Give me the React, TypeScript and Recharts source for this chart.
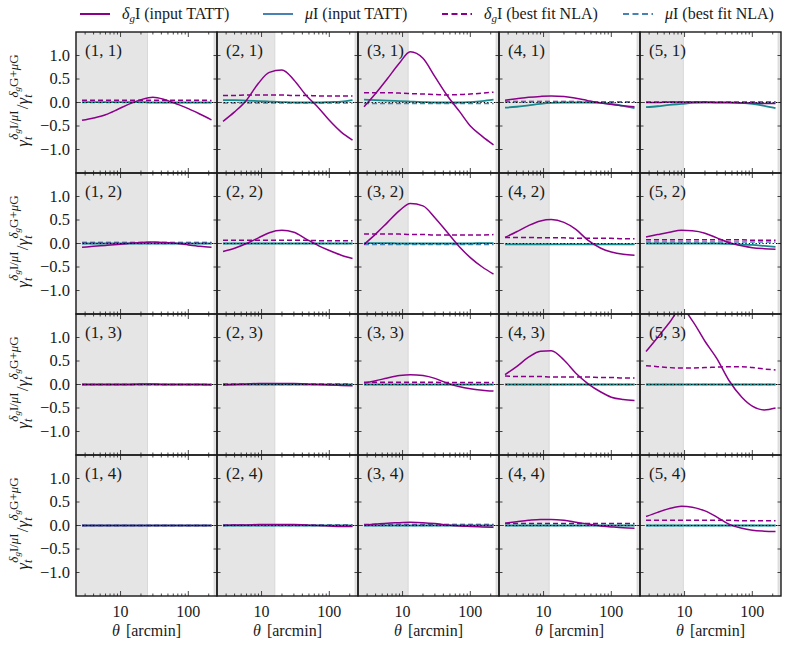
import { useMemo } from "react";
import { LineChart, Line, XAxis, YAxis, ReferenceArea, ReferenceLine } from "recharts";

// theta sample points [arcmin]
const THETA = [2.7, 4, 6, 9, 13, 20, 30, 45, 70, 100, 150, 220];

// scale cuts per lens bin (column), shaded grey
const LOWER_CUTS = [25, 15.7, 12.1, 12.1, 9.6];
const UPPER_CUT = 240;

const X_DOMAIN: [number, number] = [2.2, 265];
const X_MAJOR = [10, 100];
const X_TICKS = [3, 4, 5, 6, 7, 8, 9, 10, 20, 30, 40, 50, 60, 70, 80, 90, 100, 200];
const Y_TICKS = [-1, -0.5, 0, 0.5, 1];

// panels ordered by source bin (row) then lens bin (column)
const DG_TATT = [
  [-0.38, -0.33, -0.26, -0.15, -0.04, 0.06, 0.11, 0.06, -0.04, -0.13, -0.25, -0.37],
  [-0.4, -0.2, 0.05, 0.41, 0.64, 0.69, 0.48, 0.16, -0.12, -0.38, -0.63, -0.8],
  [-0.09, 0.19, 0.51, 0.84, 1.08, 0.94, 0.55, 0.16, -0.2, -0.5, -0.72, -0.9],
  [0.05, 0.08, 0.11, 0.13, 0.14, 0.13, 0.09, 0.04, -0.01, -0.04, -0.07, -0.09],
  [0.0, 0.0, 0.01, 0.01, 0.01, 0.01, 0.0, 0.0, -0.01, -0.01, -0.02, -0.02],

  [-0.08, -0.06, -0.04, -0.02, 0.0, 0.02, 0.03, 0.02, 0.0, -0.03, -0.06, -0.08],
  [-0.17, -0.1, 0.0, 0.12, 0.23, 0.28, 0.24, 0.1, -0.05, -0.15, -0.25, -0.32],
  [-0.02, 0.2, 0.45, 0.7, 0.85, 0.8, 0.55, 0.25, -0.08, -0.3, -0.5, -0.65],
  [0.13, 0.25, 0.38, 0.48, 0.51, 0.45, 0.3, 0.07, -0.1, -0.18, -0.23, -0.25],
  [0.14, 0.19, 0.24, 0.28, 0.27, 0.22, 0.12, 0.02, -0.05, -0.09, -0.11, -0.12],

  [0.0, 0.0, 0.0, 0.0, 0.0, 0.01, 0.01, 0.0, 0.0, 0.0, 0.0, -0.01],
  [-0.01, 0.0, 0.01, 0.02, 0.02, 0.02, 0.02, 0.01, 0.0, -0.01, -0.02, -0.03],
  [0.03, 0.08, 0.14, 0.19, 0.21, 0.19, 0.13, 0.03, -0.05, -0.09, -0.12, -0.14],
  [0.21, 0.38, 0.58, 0.71, 0.72, 0.52, 0.24, 0.02, -0.16, -0.27, -0.32, -0.34],
  [0.7, 1.0, 1.32, 1.62, 1.36, 0.92, 0.55, 0.09, -0.27, -0.46, -0.54, -0.5],

  [0.0, 0.0, 0.0, 0.0, 0.0, 0.0, 0.0, 0.0, 0.0, 0.0, 0.0, 0.0],
  [0.0, 0.01, 0.01, 0.02, 0.02, 0.02, 0.02, 0.01, 0.0, -0.01, -0.02, -0.02],
  [0.01, 0.03, 0.05, 0.06, 0.07, 0.06, 0.04, 0.01, -0.01, -0.02, -0.03, -0.04],
  [0.05, 0.08, 0.11, 0.13, 0.13, 0.11, 0.07, 0.03, -0.01, -0.03, -0.05, -0.06],
  [0.19, 0.28, 0.36, 0.41, 0.39, 0.31, 0.18, 0.03, -0.06, -0.1, -0.12, -0.13],
];

const DG_NLA = [
  [0.05, 0.05, 0.05, 0.05, 0.05, 0.05, 0.05, 0.05, 0.05, 0.05, 0.05, 0.04],
  [0.15, 0.15, 0.16, 0.16, 0.16, 0.16, 0.15, 0.15, 0.14, 0.14, 0.14, 0.14],
  [0.21, 0.21, 0.21, 0.2, 0.19, 0.18, 0.17, 0.16, 0.17, 0.18, 0.2, 0.22],
  [0.02, 0.02, 0.02, 0.02, 0.02, 0.02, 0.02, 0.01, 0.01, 0.01, 0.01, 0.01],
  [0.01, 0.01, 0.01, 0.01, 0.01, 0.01, 0.01, 0.01, 0.01, 0.01, 0.01, 0.01],

  [0.02, 0.02, 0.02, 0.02, 0.02, 0.02, 0.02, 0.02, 0.02, 0.02, 0.02, 0.02],
  [0.07, 0.07, 0.07, 0.07, 0.07, 0.07, 0.07, 0.07, 0.06, 0.06, 0.06, 0.06],
  [0.2, 0.2, 0.2, 0.2, 0.19, 0.19, 0.18, 0.18, 0.18, 0.18, 0.18, 0.19],
  [0.13, 0.13, 0.13, 0.12, 0.12, 0.12, 0.11, 0.11, 0.11, 0.11, 0.1, 0.1],
  [0.08, 0.08, 0.08, 0.08, 0.08, 0.08, 0.08, 0.08, 0.08, 0.07, 0.07, 0.07],

  [0.0, 0.0, 0.0, 0.0, 0.0, 0.0, 0.0, 0.0, 0.0, 0.0, 0.0, 0.0],
  [0.01, 0.01, 0.01, 0.01, 0.01, 0.01, 0.01, 0.01, 0.01, 0.01, 0.01, 0.01],
  [0.05, 0.05, 0.05, 0.05, 0.05, 0.05, 0.05, 0.04, 0.04, 0.04, 0.04, 0.04],
  [0.18, 0.17, 0.17, 0.17, 0.16, 0.16, 0.16, 0.16, 0.15, 0.15, 0.14, 0.14],
  [0.4, 0.38, 0.36, 0.35, 0.35, 0.36, 0.37, 0.38, 0.38, 0.36, 0.33, 0.31],

  [0.0, 0.0, 0.0, 0.0, 0.0, 0.0, 0.0, 0.0, 0.0, 0.0, 0.0, 0.0],
  [0.01, 0.01, 0.01, 0.01, 0.01, 0.01, 0.01, 0.01, 0.01, 0.01, 0.01, 0.01],
  [0.02, 0.02, 0.02, 0.02, 0.02, 0.02, 0.02, 0.02, 0.02, 0.02, 0.02, 0.02],
  [0.04, 0.04, 0.04, 0.04, 0.04, 0.04, 0.04, 0.04, 0.04, 0.04, 0.04, 0.04],
  [0.11, 0.11, 0.11, 0.11, 0.11, 0.11, 0.11, 0.11, 0.1, 0.1, 0.1, 0.1],
];

const MU_TATT = [
  [0.01, 0.01, 0.01, 0.01, 0.01, 0.01, 0.0, 0.0, 0.0, 0.0, 0.0, 0.0],
  [0.05, 0.05, 0.04, 0.03, 0.02, 0.01, 0.0, 0.0, 0.0, 0.01, 0.02, 0.05],
  [0.06, 0.05, 0.04, 0.03, 0.02, 0.01, 0.0, 0.0, 0.0, 0.01, 0.03, 0.06],
  [-0.11, -0.09, -0.06, -0.03, -0.01, 0.0, 0.0, 0.0, -0.01, -0.03, -0.07, -0.12],
  [-0.1, -0.08, -0.05, -0.03, -0.01, 0.0, 0.0, 0.0, -0.01, -0.03, -0.07, -0.12],

  [0.0, 0.0, 0.0, 0.0, 0.0, 0.0, 0.0, 0.0, 0.0, 0.0, 0.0, 0.0],
  [0.0, 0.0, 0.0, 0.0, 0.0, 0.0, 0.0, 0.0, 0.0, 0.0, 0.0, 0.0],
  [0.01, 0.01, 0.01, 0.0, 0.0, 0.0, 0.0, 0.0, 0.0, 0.0, 0.01, 0.01],
  [-0.02, -0.02, -0.02, -0.02, -0.02, -0.02, -0.02, -0.02, -0.02, -0.02, -0.02, -0.02],
  [0.0, 0.0, 0.0, 0.0, 0.0, 0.0, 0.0, -0.01, -0.02, -0.03, -0.05, -0.07],

  [0.0, 0.0, 0.0, 0.0, 0.0, 0.0, 0.0, 0.0, 0.0, 0.0, 0.0, 0.0],
  [0.0, 0.0, 0.0, 0.0, 0.0, 0.0, 0.0, 0.0, 0.0, 0.0, 0.0, 0.0],
  [0.0, 0.0, 0.0, 0.0, 0.0, 0.0, 0.0, 0.0, 0.0, 0.0, 0.0, 0.0],
  [0.0, 0.0, 0.0, 0.0, 0.0, 0.0, 0.0, 0.0, 0.0, 0.0, 0.0, 0.0],
  [0.0, 0.0, 0.0, 0.0, 0.0, 0.0, 0.0, 0.0, 0.0, 0.0, 0.0, 0.0],

  [0.0, 0.0, 0.0, 0.0, 0.0, 0.0, 0.0, 0.0, 0.0, 0.0, 0.0, 0.0],
  [0.0, 0.0, 0.0, 0.0, 0.0, 0.0, 0.0, 0.0, 0.0, 0.0, 0.0, 0.0],
  [0.0, 0.0, 0.0, 0.0, 0.0, 0.0, 0.0, 0.0, 0.0, 0.0, 0.0, 0.0],
  [0.0, 0.0, 0.0, 0.0, 0.0, 0.0, 0.0, 0.0, 0.0, 0.0, 0.0, 0.0],
  [0.0, 0.0, 0.0, 0.0, 0.0, 0.0, 0.0, 0.0, 0.0, 0.0, 0.0, 0.0],
];

const MU_NLA = [
  [0.0, 0.0, 0.0, 0.0, 0.0, 0.0, 0.0, 0.0, 0.0, 0.0, 0.0, 0.0],
  [-0.01, -0.01, -0.01, -0.01, -0.01, -0.01, -0.01, -0.01, -0.01, -0.01, -0.01, -0.01],
  [-0.02, -0.02, -0.02, -0.02, -0.02, -0.02, -0.02, -0.02, -0.02, -0.02, -0.02, -0.02],
  [0.01, 0.01, 0.01, 0.01, 0.01, 0.01, 0.01, 0.01, 0.01, 0.01, 0.01, 0.01],
  [0.01, 0.01, 0.01, 0.01, 0.01, 0.01, 0.01, 0.01, 0.01, 0.01, 0.01, 0.01],

  [0.0, 0.0, 0.0, 0.0, 0.0, 0.0, 0.0, 0.0, 0.0, 0.0, 0.0, 0.0],
  [0.0, 0.0, 0.0, 0.0, 0.0, 0.0, 0.0, 0.0, 0.0, 0.0, 0.0, 0.0],
  [-0.02, -0.02, -0.02, -0.02, -0.02, -0.02, -0.02, -0.02, -0.02, -0.02, -0.02, -0.02],
  [-0.01, -0.01, -0.01, -0.01, -0.01, -0.01, -0.01, -0.01, -0.01, -0.01, -0.01, -0.01],
  [0.03, 0.03, 0.03, 0.03, 0.03, 0.03, 0.03, 0.03, 0.03, 0.03, 0.03, 0.03],

  [0.0, 0.0, 0.0, 0.0, 0.0, 0.0, 0.0, 0.0, 0.0, 0.0, 0.0, 0.0],
  [0.0, 0.0, 0.0, 0.0, 0.0, 0.0, 0.0, 0.0, 0.0, 0.0, 0.0, 0.0],
  [0.0, 0.0, 0.0, 0.0, 0.0, 0.0, 0.0, 0.0, 0.0, 0.0, 0.0, 0.0],
  [0.0, 0.0, 0.0, 0.0, 0.0, 0.0, 0.0, 0.0, 0.0, 0.0, 0.0, 0.0],
  [0.0, 0.0, 0.0, 0.0, 0.0, 0.0, 0.0, 0.0, 0.0, 0.0, 0.0, 0.0],

  [0.0, 0.0, 0.0, 0.0, 0.0, 0.0, 0.0, 0.0, 0.0, 0.0, 0.0, 0.0],
  [0.0, 0.0, 0.0, 0.0, 0.0, 0.0, 0.0, 0.0, 0.0, 0.0, 0.0, 0.0],
  [0.0, 0.0, 0.0, 0.0, 0.0, 0.0, 0.0, 0.0, 0.0, 0.0, 0.0, 0.0],
  [0.0, 0.0, 0.0, 0.0, 0.0, 0.0, 0.0, 0.0, 0.0, 0.0, 0.0, 0.0],
  [0.0, 0.0, 0.0, 0.0, 0.0, 0.0, 0.0, 0.0, 0.0, 0.0, 0.0, 0.0],
];

const PURPLE = "#8b008b";
const TEAL = "#17898d";
const STEEL = "#4682b4";
const FONT = '"Liberation Serif", serif';
const INK = "#1a1a1a";
const TXT = { fontFamily: FONT };

const PANEL = 141;
const GRID_LEFT = 76;
const GRID_TOP = 32;
const AXIS_W = 76;
const AXIS_H = 54;
const NCOL = 5;
const NROW = 4;

function XTick(props: any) {
  const { x, y, payload, showLabel } = props;
  const major = X_MAJOR.includes(payload.value);
  const len = major ? 5 : 2.5;
  const top = y - PANEL;
  return (
    <g>
      <line x1={x} x2={x} y1={y} y2={y - len} stroke={INK} strokeWidth={0.8} />
      <line x1={x} x2={x} y1={top} y2={top + len} stroke={INK} strokeWidth={0.8} />
      {showLabel && major && (
        <text x={x} y={y + 21} textAnchor="middle" fontSize={16} style={TXT} fill={INK}>
          {payload.value}
        </text>
      )}
    </g>
  );
}

function YTick(props: any) {
  const { x, y, payload, showLabel } = props;
  const v = payload.value as number;
  const label = v < 0 ? "\u2212" + Math.abs(v).toFixed(1) : v.toFixed(1);
  return (
    <g>
      <line x1={x} x2={x + 3.5} y1={y} y2={y} stroke={INK} strokeWidth={0.8} />
      <line x1={x + PANEL} x2={x + PANEL - 3.5} y1={y} y2={y} stroke={INK} strokeWidth={0.8} />
      {showLabel && (
        <text x={x - 6} y={y + 5} textAnchor="end" fontSize={16.5} style={TXT} fill={INK}>
          {label}
        </text>
      )}
    </g>
  );
}

function Panel({ col, row }: { col: number; row: number }) {
  const idx = row * NCOL + col;
  const data = useMemo(
    () =>
      THETA.map((theta, k) => ({
        theta,
        dgTatt: DG_TATT[idx][k],
        muTatt: MU_TATT[idx][k],
        dgNla: DG_NLA[idx][k],
        muNla: MU_NLA[idx][k],
      })),
    [idx]
  );
  const bottomRow = row === NROW - 1;
  const leftCol = col === 0;

  return (
    <div
      style={{
        position: "absolute",
        left: GRID_LEFT + col * PANEL - AXIS_W,
        top: GRID_TOP + row * PANEL,
      }}
    >
      <LineChart
        width={PANEL + AXIS_W}
        height={PANEL + AXIS_H}
        data={data}
        margin={{ top: 0, right: 0, bottom: 0, left: 0 }}
      >
        <XAxis
          dataKey="theta"
          type="number"
          scale="log"
          domain={X_DOMAIN}
          allowDataOverflow
          ticks={X_TICKS}
          interval={0}
          height={AXIS_H}
          tickSize={0}
          tickMargin={0}
          tickLine={false}
          axisLine={false}
          tick={(p: any) => <XTick {...p} showLabel={bottomRow} />}
        />
        <YAxis
          type="number"
          domain={[-1.5, 1.5]}
          allowDataOverflow
          ticks={Y_TICKS}
          interval={0}
          width={AXIS_W}
          tickSize={0}
          tickMargin={0}
          tickLine={false}
          axisLine={false}
          tick={(p: any) => <YTick {...p} showLabel={leftCol} />}
        />
        <ReferenceArea x1={X_DOMAIN[0]} x2={LOWER_CUTS[col]} fill="#e5e5e5" fillOpacity={1} stroke="#d2d2d2" strokeWidth={0.8} />
        <ReferenceArea x1={UPPER_CUT} x2={X_DOMAIN[1]} fill="#e5e5e5" fillOpacity={1} stroke="#d2d2d2" strokeWidth={0.8} />
        <Line dataKey="dgNla" type="monotone" stroke={PURPLE} strokeWidth={1.5} strokeDasharray="5 3" dot={false} isAnimationActive={false} />
        <Line dataKey="muNla" type="monotone" stroke={STEEL} strokeWidth={1.5} strokeDasharray="5 3" dot={false} isAnimationActive={false} />
        <Line dataKey="muTatt" type="monotone" stroke={TEAL} strokeWidth={1.8} dot={false} isAnimationActive={false} />
        <Line dataKey="dgTatt" type="monotone" stroke={PURPLE} strokeWidth={1.5} dot={false} isAnimationActive={false} />
        <ReferenceLine y={0} stroke="#000" strokeWidth={1.1} strokeDasharray="1.2 2.2" />
      </LineChart>
    </div>
  );
}

function YLabel({ cy }: { cy: number }) {
  return (
    <g transform={`translate(28, ${cy}) rotate(-90)`}>
      <text x={0} y={0} textAnchor="middle" fontSize={17} style={TXT} fill={INK}>
        <tspan fontStyle="italic">γ</tspan>
        <tspan fontStyle="italic" fontSize={12} dy={4}>t</tspan>
        <tspan fontSize={13} dx={-3} dy={-14}>
          <tspan fontStyle="italic">δ</tspan>
          <tspan fontStyle="italic" fontSize={9} dy={2}>g</tspan>
          <tspan dy={-2}>I/</tspan>
          <tspan fontStyle="italic">μ</tspan>I
        </tspan>
        <tspan dy={10} dx={1}>/</tspan>
        <tspan fontStyle="italic">γ</tspan>
        <tspan fontStyle="italic" fontSize={12} dy={4}>t</tspan>
        <tspan fontSize={13} dx={-3} dy={-14}>
          <tspan fontStyle="italic">δ</tspan>
          <tspan fontStyle="italic" fontSize={9} dy={2}>g</tspan>
          <tspan dy={-2}>G+</tspan>
          <tspan fontStyle="italic">μ</tspan>G
        </tspan>
      </text>
    </g>
  );
}

function LegendItem({ x, color, dashed, sym, text }: { x: number; color: string; dashed: boolean; sym: "dg" | "mu"; text: string }) {
  return (
    <g>
      <line x1={x} x2={x + 30} y1={14} y2={14} stroke={color} strokeWidth={2} strokeDasharray={dashed ? "6 3.5" : undefined} />
      <text x={x + 42} y={19} fontSize={16} style={TXT} fill={INK}>
        {sym === "dg" ? (
          <>
            <tspan fontStyle="italic">δ</tspan>
            <tspan fontStyle="italic" fontSize={11} dy={3}>g</tspan>
            <tspan dy={-3}>I {text}</tspan>
          </>
        ) : (
          <>
            <tspan fontStyle="italic">μ</tspan>
            <tspan>I {text}</tspan>
          </>
        )}
      </text>
    </g>
  );
}

function Overlay() {
  const frames = [];
  for (let r = 0; r < NROW; r++) {
    for (let c = 0; c < NCOL; c++) {
      const x = GRID_LEFT + c * PANEL;
      const y = GRID_TOP + r * PANEL;
      frames.push(
        <g key={`${r}-${c}`}>
          <rect x={x} y={y} width={PANEL} height={PANEL} fill="none" stroke={INK} strokeWidth={1.4} />
          <text x={x + 9} y={y + 24} fontSize={17} style={TXT} fill={INK}>
            {`(${c + 1}, ${r + 1})`}
          </text>
        </g>
      );
    }
  }
  return (
    <svg width={789} height={649} style={{ position: "absolute", left: 0, top: 0, pointerEvents: "none" }}>
      {frames}
      {Array.from({ length: NROW }, (_, r) => (
        <YLabel key={`yl${r}`} cy={GRID_TOP + r * PANEL + PANEL / 2 - 2} />
      ))}
      {Array.from({ length: NCOL }, (_, c) => (
        <text
          key={`xl${c}`}
          x={GRID_LEFT + c * PANEL + PANEL / 2}
          y={GRID_TOP + NROW * PANEL + 40}
          textAnchor="middle"
          fontSize={16}
          style={TXT}
          fill={INK}
        >
          <tspan fontStyle="italic">θ</tspan>
          <tspan dx={6}>[arcmin]</tspan>
        </text>
      ))}
      <LegendItem x={80} color={PURPLE} dashed={false} sym="dg" text="(input TATT)" />
      <LegendItem x={263} color={STEEL} dashed={false} sym="mu" text="(input TATT)" />
      <LegendItem x={442} color={PURPLE} dashed={true} sym="dg" text="(best fit NLA)" />
      <LegendItem x={623} color={STEEL} dashed={true} sym="mu" text="(best fit NLA)" />
    </svg>
  );
}

export default function App() {
  const panels = [];
  for (let r = 0; r < NROW; r++) {
    for (let c = 0; c < NCOL; c++) {
      panels.push(<Panel key={`${r}-${c}`} col={c} row={r} />);
    }
  }
  return (
    <div
      style={{
        position: "absolute",
        left: 0,
        top: 0,
        width: 789,
        height: 649,
        overflow: "hidden",
        background: "#fff",
        fontFamily: FONT,
      }}
    >
      {panels}
      <Overlay />
    </div>
  );
}
